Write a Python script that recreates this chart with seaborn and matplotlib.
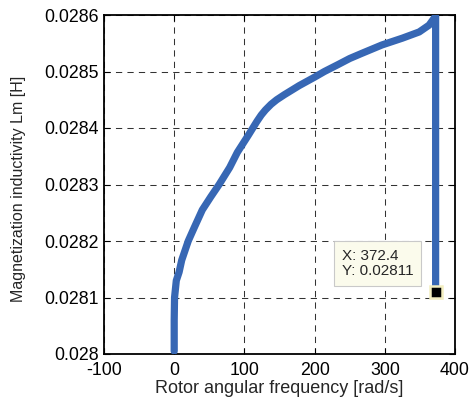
import matplotlib
matplotlib.use("Agg")
import matplotlib.pyplot as plt
import seaborn as sns
import pandas as pd

# Rotor angular frequency [rad/s] and magnetization inductance [H] along the run
omega = [0.0, 0.0, 0.5, 3.0, 7.0, 10.7, 20.0, 29.0, 40.0, 52.0, 64.0, 79.0,
         90.0, 105.0, 112.0, 118.0, 124.0, 130.0, 138.0, 146.0, 157.0, 178.0,
         200.0, 214.0, 233.0, 250.0, 267.0, 296.0, 325.0, 349.0, 363.0, 372.4,
         372.4]
lm = [0.028005, 0.02806, 0.02810, 0.02813, 0.028145, 0.028166, 0.02820, 0.028225,
      0.028255, 0.028278, 0.02830, 0.02833, 0.028357, 0.028386, 0.0284, 0.028412,
      0.028423, 0.028432, 0.028442, 0.02845, 0.028459, 0.028475, 0.02849, 0.0285,
      0.028512, 0.028523, 0.028532, 0.028547, 0.028559, 0.02857, 0.028582,
      0.028598, 0.02811]

x_ticks = [-100, 0, 100, 200, 300, 400]
y_ticks = [0.028, 0.0281, 0.0282, 0.0283, 0.0284, 0.0285, 0.0286]
y_tick_labels = ["0.028", "0.0281", "0.0282", "0.0283", "0.0284", "0.0285", "0.0286"]

tip_x = 372.4
tip_y = 0.02811

sns.set_style("ticks")
plt.rcParams["font.family"] = ["Liberation Sans", "DejaVu Sans"]

df = pd.DataFrame({"omega": omega, "lm": lm})

fig = plt.figure(figsize=(4.72, 4.01), dpi=100)
ax = fig.add_axes([104 / 472, 1 - 354 / 401, (455 - 104) / 472, (354 - 15) / 401])

sns.lineplot(data=df, x="omega", y="lm", sort=False, estimator=None, ax=ax,
             color="#3767b4", linewidth=5.2, solid_capstyle="round",
             solid_joinstyle="round", zorder=3)

# data cursor marker and its label box
ax.plot([tip_x], [tip_y], marker="s", markersize=9, color="black",
        markeredgecolor="#f3eec0", markeredgewidth=1.8, zorder=5)
ax.text(238.6, 0.0281601, f"X: {tip_x}\nY: {tip_y}",
        fontsize=11, va="center", ha="left", linespacing=1.15, zorder=6,
        bbox=dict(boxstyle="square,pad=0.5", facecolor="#fbfbec",
                  edgecolor="#c9c9c9", linewidth=0.8))

ax.set_xlim(-100, 400)
ax.set_ylim(0.028, 0.0286)
ax.set_xticks(x_ticks)
ax.set_xticklabels([str(t) for t in x_ticks])
ax.set_yticks(y_ticks)
ax.set_yticklabels(y_tick_labels)

ax.grid(True, color="0.2", linestyle=(0, (6, 5)), linewidth=0.75)
ax.set_axisbelow(True)
for s in ax.spines.values():
    s.set_visible(True)
    s.set_linewidth(1.3)
    s.set_color("black")
ax.tick_params(direction="in", length=4.5, width=0.8, top=True, right=True,
               labelsize=12.8, colors="black")
ax.tick_params(axis="x", pad=6)
ax.tick_params(axis="y", pad=3.5)

ax.set_xlabel("Rotor angular frequency [rad/s]", fontsize=13)
ax.set_ylabel("Magnetization inductivity Lm [H]", fontsize=11.5)
ax.xaxis.set_label_coords(0.5, -0.077)
ax.yaxis.set_label_coords(-0.222, 0.488)

fig.savefig("out.png", dpi=100)
